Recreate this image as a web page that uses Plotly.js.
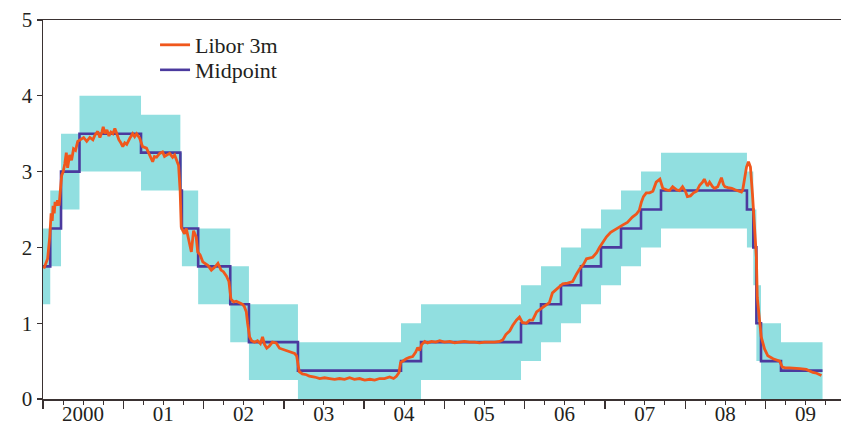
<!DOCTYPE html>
<html>
<head>
<meta charset="utf-8">
<script src="https://cdn.plot.ly/plotly-3.0.1.min.js"></script>
<style>html,body{margin:0;padding:0;background:#fff;}#chart{width:841px;height:429px;}</style>
</head>
<body>
<div id="chart"></div>
<script>
// SNB target range steps
const stepDates = ['2000-01-01','2000-02-03','2000-03-23','2000-06-15','2001-03-22','2001-09-17','2001-09-24','2001-12-07','2002-05-02','2002-07-26','2003-03-06','2004-06-17','2004-09-16','2005-12-15','2006-03-16','2006-06-15','2006-09-14','2006-12-14','2007-03-15','2007-06-14','2007-09-13','2008-10-08','2008-11-06','2008-11-20','2008-12-11','2009-03-12','2009-09-17'];
const midpoint = [1.75,2.25,3.0,3.5,3.25,2.75,2.25,1.75,1.25,0.75,0.375,0.5,0.75,1.0,1.25,1.5,1.75,2.0,2.25,2.5,2.75,2.5,2.0,1.0,0.5,0.375,0.375];
const bandLow = [1.25,1.75,2.5,3.0,2.75,2.25,1.75,1.25,0.75,0.25,0,0,0.25,0.5,0.75,1.0,1.25,1.5,1.75,2.0,2.25,2.0,1.5,0.5,0,0,0];
const bandHigh = [2.25,2.75,3.5,4.0,3.75,3.25,2.75,2.25,1.75,1.25,0.75,1.0,1.25,1.5,1.75,2.0,2.25,2.5,2.75,3.0,3.25,3.0,2.5,1.5,1.0,0.75,0.75];

// Libor 3m (CHF)
const liborDates = [
'2000-01-05','2000-01-13','2000-01-22','2000-02-01','2000-02-07','2000-02-12','2000-02-16','2000-02-21','2000-02-25','2000-03-02','2000-03-07','2000-03-14','2000-03-21','2000-03-26','2000-04-02','2000-04-09','2000-04-16','2000-04-22','2000-05-01','2000-05-10','2000-05-19','2000-05-28','2000-06-07','2000-06-16','2000-07-04','2000-07-18','2000-08-01','2000-08-15','2000-08-24','2000-09-06','2000-09-16','2000-09-25','2000-10-01','2000-10-09','2000-10-18','2000-10-27','2000-11-05','2000-11-14','2000-11-23','2000-12-02','2000-12-11','2000-12-20','2000-12-29',
'2001-01-07','2001-01-16','2001-01-30','2001-02-12','2001-02-21','2001-03-02','2001-03-16','2001-03-29','2001-04-16','2001-04-30','2001-05-14','2001-05-22','2001-06-01','2001-06-15','2001-06-28','2001-07-07','2001-07-16','2001-07-30','2001-08-13','2001-08-22','2001-08-31','2001-09-09','2001-09-16','2001-09-21','2001-09-28','2001-10-06','2001-10-14','2001-10-26','2001-11-06','2001-11-16','2001-11-28','2001-12-05','2001-12-16','2001-12-28',
'2002-01-10','2002-01-21','2002-02-05','2002-02-21','2002-03-07','2002-03-21','2002-04-01','2002-04-15','2002-04-26','2002-05-05','2002-05-17','2002-05-29','2002-06-13','2002-06-27','2002-07-05','2002-07-14','2002-07-20','2002-07-29','2002-08-07','2002-08-21','2002-09-03','2002-09-16','2002-09-26','2002-10-05','2002-10-15','2002-10-27','2002-11-10','2002-11-27','2002-12-12',
'2003-01-01','2003-01-19','2003-02-06','2003-02-19','2003-02-28','2003-03-05','2003-03-12','2003-03-26','2003-04-14','2003-04-27','2003-05-21','2003-06-13','2003-07-05','2003-07-28','2003-08-20','2003-09-11','2003-10-04','2003-10-27','2003-11-18','2003-12-11',
'2004-01-04','2004-01-27','2004-02-18','2004-03-12','2004-04-03','2004-04-26','2004-05-14','2004-05-27','2004-06-08','2004-06-15','2004-06-24','2004-07-11','2004-07-26','2004-08-09','2004-08-23','2004-09-01','2004-09-10','2004-09-19','2004-10-03','2004-10-16','2004-11-03','2004-11-22','2004-12-10',
'2005-01-01','2005-01-25','2005-02-16','2005-03-10','2005-04-01','2005-04-25','2005-05-18','2005-06-09','2005-07-02','2005-07-25','2005-08-17','2005-09-09','2005-09-23','2005-10-07','2005-10-25','2005-11-07','2005-11-24','2005-12-08','2005-12-21',
'2006-01-08','2006-01-23','2006-02-06','2006-02-24','2006-03-10','2006-04-01','2006-04-23','2006-05-07','2006-05-26','2006-06-23','2006-07-15','2006-08-07','2006-08-25','2006-09-09','2006-09-26','2006-10-09','2006-11-06','2006-11-24','2006-12-07','2006-12-25',
'2007-01-08','2007-01-27','2007-02-09','2007-03-07','2007-03-26','2007-04-13','2007-05-06','2007-05-24','2007-06-06','2007-06-16','2007-06-25','2007-07-08','2007-07-23','2007-08-07','2007-08-22','2007-09-08','2007-09-21','2007-10-08','2007-10-22','2007-11-05','2007-11-23','2007-12-06','2007-12-20',
'2008-01-02','2008-01-11','2008-01-25','2008-02-08','2008-02-22','2008-03-07','2008-03-20','2008-03-28','2008-04-11','2008-04-21','2008-05-05','2008-05-14','2008-05-28','2008-06-14','2008-06-23','2008-06-30','2008-07-14','2008-07-31','2008-08-15','2008-08-29','2008-09-13','2008-09-19','2008-09-26','2008-10-06','2008-10-15','2008-10-24','2008-11-02','2008-11-12','2008-11-20','2008-11-24','2008-12-05','2008-12-12','2008-12-27',
'2009-01-11','2009-02-04','2009-02-25','2009-03-06','2009-03-18','2009-04-01','2009-04-20','2009-05-14','2009-06-06','2009-07-05','2009-07-20','2009-08-04','2009-08-21','2009-09-12'];
const libor = [
1.72,1.78,1.85,2.15,2.45,2.35,2.55,2.45,2.60,2.55,2.62,2.55,2.80,2.95,3.00,3.10,3.25,3.05,3.22,3.15,3.30,3.28,3.40,3.42,3.45,3.40,3.45,3.42,3.48,3.53,3.45,3.52,3.59,3.50,3.55,3.47,3.52,3.50,3.57,3.50,3.42,3.38,3.33,
3.38,3.36,3.44,3.50,3.46,3.50,3.44,3.33,3.31,3.22,3.13,3.20,3.19,3.24,3.26,3.20,3.22,3.24,3.19,3.22,3.15,3.08,2.75,2.27,2.22,2.18,2.25,2.09,1.94,2.22,2.14,1.94,1.90,1.81,
1.78,1.76,1.70,1.74,1.79,1.70,1.68,1.62,1.55,1.32,1.28,1.29,1.27,1.25,1.22,1.15,1.00,0.82,0.77,0.75,0.77,0.73,0.82,0.72,0.67,0.70,0.75,0.74,0.67,
0.65,0.64,0.62,0.60,0.57,0.45,0.36,0.33,0.32,0.30,0.29,0.27,0.28,0.27,0.26,0.27,0.26,0.28,0.26,0.27,
0.25,0.26,0.25,0.27,0.27,0.29,0.27,0.30,0.35,0.48,0.50,0.53,0.55,0.56,0.62,0.68,0.64,0.72,0.76,0.74,0.76,0.75,0.77,
0.75,0.76,0.74,0.75,0.76,0.75,0.75,0.74,0.75,0.75,0.75,0.76,0.78,0.85,0.90,0.97,1.04,1.08,1.01,
1.00,1.04,1.04,1.15,1.18,1.22,1.27,1.40,1.45,1.52,1.53,1.55,1.65,1.72,1.78,1.85,1.87,1.93,2.00,2.08,
2.14,2.20,2.22,2.26,2.30,2.33,2.40,2.44,2.49,2.60,2.67,2.72,2.72,2.74,2.86,2.90,2.78,2.76,2.75,2.80,2.76,2.75,2.80,
2.74,2.67,2.68,2.72,2.74,2.82,2.86,2.90,2.81,2.86,2.80,2.78,2.80,2.92,2.83,2.80,2.79,2.78,2.76,2.75,2.73,2.76,2.88,3.06,3.13,3.06,2.71,2.18,1.87,1.34,1.04,0.82,0.66,
0.57,0.53,0.51,0.50,0.42,0.41,0.41,0.40,0.40,0.39,0.37,0.35,0.34,0.31];

const yearLabelDates = ['2000-07-01','2001-07-01','2002-07-01','2003-07-01','2004-07-01','2005-07-01','2006-07-01','2007-07-01','2008-07-01','2009-07-01'];
const yearLabels = ['2000','01','02','03','04','05','06','07','08','09'];
const yTicks = [0,1,2,3,4,5];

const xRange = ['2000-01-01','2009-12-10'];
const axisColor = '#3a3232';
const textColor = '#231f20';

const traces = [
  {x: stepDates, y: bandLow, type:'scatter', mode:'lines', line:{shape:'hv', width:0, color:'#91dfe0'}, showlegend:false, hoverinfo:'skip'},
  {x: stepDates, y: bandHigh, type:'scatter', mode:'lines', line:{shape:'hv', width:0, color:'#91dfe0'}, fill:'tonexty', fillcolor:'#91dfe0', showlegend:false, hoverinfo:'skip'},
  {x: stepDates, y: midpoint, type:'scatter', mode:'lines', name:'Midpoint', line:{shape:'hv', width:2.6, color:'#4b3a9e'}, legend:'legend2'},
  {x: liborDates, y: libor, type:'scatter', mode:'lines', name:'Libor 3m', line:{width:2.8, color:'#f0571c'}, legend:'legend'},
  {x: stepDates, y: midpoint, xaxis:'x2', type:'scatter', mode:'lines', line:{width:0}, opacity:0, showlegend:false, hoverinfo:'skip'}
];

const legendBase = {x:0.1404, xanchor:'left', yanchor:'middle', bgcolor:'rgba(0,0,0,0)', borderwidth:0, font:{size:22, color:textColor}, traceorder:'normal'};

const layout = {
  width: 841, height: 429,
  margin: {l:43, r:0, t:20, b:30, pad:0},
  paper_bgcolor:'#ffffff', plot_bgcolor:'#ffffff',
  font: {family:'Liberation Serif, DejaVu Serif, serif', size:21, color:textColor},
  showlegend: true,
  legend: Object.assign({}, legendBase, {y:0.934}),
  legend2: Object.assign({}, legendBase, {y:0.868}),
  xaxis: {type:'date', range:xRange, showline:true, linecolor:axisColor, linewidth:1.5, mirror:true,
    ticks:'outside', ticklen:8, tickwidth:1.3, tickcolor:axisColor, tickmode:'linear', tick0:'2000-01-01', dtick:'M12',
    showticklabels:false, showgrid:false, zeroline:false, fixedrange:true,
    minor:{ticks:'outside', ticklen:4, tickwidth:1, tickcolor:axisColor, tickmode:'linear', tick0:'2000-01-01', dtick:'M3', showgrid:false}},
  xaxis2: {type:'date', range:xRange, overlaying:'x', anchor:'y', side:'bottom', tickmode:'array', tickvals:yearLabelDates, ticktext:yearLabels,
    ticks:'', showline:false, showgrid:false, zeroline:false, fixedrange:true, tickfont:{size:21, color:textColor}},
  yaxis: {range:[0,5], tickmode:'array', tickvals:yTicks, ticks:'outside', ticklen:5, tickwidth:1.3, tickcolor:axisColor,
    showline:true, linewidth:1.5, linecolor:axisColor, showgrid:false, zeroline:false, fixedrange:true, tickfont:{size:21, color:textColor}}
};

Plotly.newPlot('chart', traces, layout, {displayModeBar:false, staticPlot:true});
</script>
</body>
</html>
